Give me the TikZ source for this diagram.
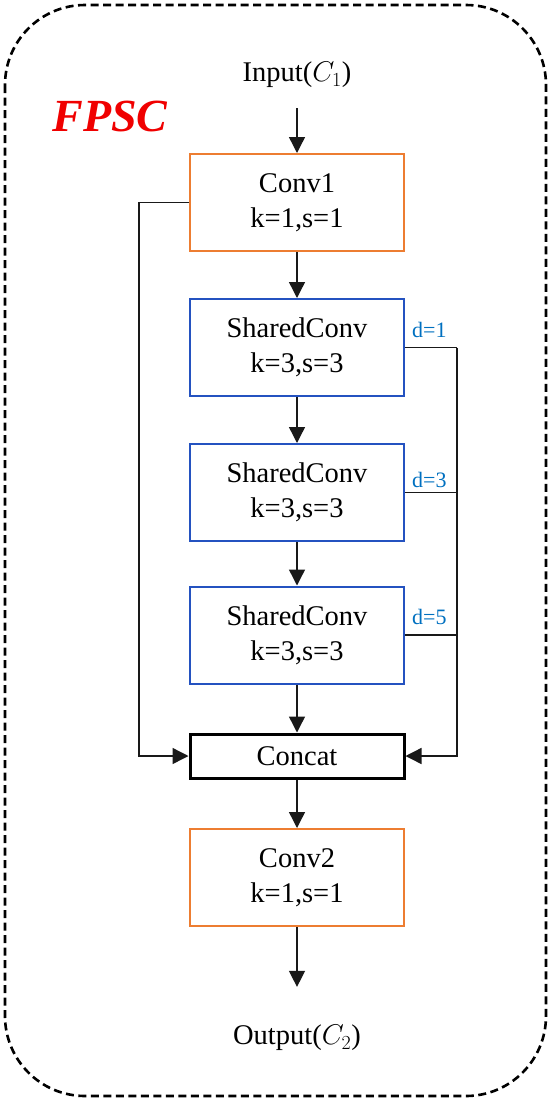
\RequirePackage{fix-cm}
\documentclass[tikz,border=0pt]{standalone}
\usepackage{fontspec}
\setmainfont{Liberation Serif}
\usetikzlibrary{arrows.meta,calc}
\definecolor{boxorange}{RGB}{237,125,49}
\definecolor{boxblue}{RGB}{36,82,192}
\definecolor{dblue}{RGB}{0,112,192}
\definecolor{fpscred}{RGB}{240,0,0}
\tikzset{
  lbl/.style={font=\fontsize{28.5}{35}\selectfont, align=center},
  blockbox/.style={lbl, draw, line width=2pt, minimum width=214pt, minimum height=97pt, inner sep=0pt},
  orangebox/.style={blockbox, draw=boxorange},
  bluebox/.style={blockbox, draw=boxblue},
  concatbox/.style={lbl, draw=black, line width=3pt, minimum width=214pt, minimum height=44pt, inner sep=0pt},
  wire/.style={line width=1.4pt, draw=black!90},
  arr/.style={wire, -{Triangle[length=16pt,width=16pt]}},
  dlab/.style={font=\fontsize{22}{26}\selectfont, text=dblue, inner sep=0pt, anchor=west},
  iolabel/.style={lbl, inner sep=0pt},
  frame/.style={draw=black, line width=2.6pt, dash pattern=on 8pt off 4.5pt, rounded corners=80pt}
}
\begin{document}
\begin{tikzpicture}[x=1pt,y=-1pt]
\useasboundingbox (0,0) rectangle (551,1100);
\draw[frame] (5,5) rectangle (546,1096);

\node[font=\fontsize{46}{50}\selectfont\bfseries\itshape, text=fpscred, inner sep=0pt] (title) at (110,116) {FPSC};

\node[iolabel] (in) at (297,75) {Input($C_1$)};
\node[orangebox] (conv1) at (297,202.5) {Conv1\\k=1,s=1};
\node[bluebox] (sc1) at (297,347.5) {SharedConv\\k=3,s=3};
\node[bluebox] (sc2) at (297,492.5) {SharedConv\\k=3,s=3};
\node[bluebox] (sc3) at (297,635) {SharedConv\\k=3,s=3};
\node[concatbox] (concat) at (297,756) {Concat};
\node[orangebox] (conv2) at (297,877.5) {Conv2\\k=1,s=1};
\node[iolabel] (out) at (297,1038) {Output($C_2$)};

\draw[arr, shorten <=20pt] (in) -- (conv1);
\draw[arr] (conv1) -- (sc1);
\draw[arr] (sc1) -- (sc2);
\draw[arr] (sc2) -- (sc3);
\draw[arr] (sc3) -- (concat);
\draw[arr] (concat) -- (conv2);
\draw[arr, shorten >=38pt] (conv2) -- (out);

\coordinate (lx) at (139,0);
\draw[arr] (conv1.west) -- (conv1.west -| lx) |- (concat.west);

\coordinate (rx) at (457,0);
\draw[wire] (sc1.east) -- (sc1.east -| rx) coordinate (r1);
\draw[wire] (sc2.east) -- (sc2.east -| rx);
\draw[wire] (sc3.east) -- (sc3.east -| rx);
\draw[arr] (r1) |- (concat.east);

\node[dlab] (d1) at (412,330) {d=1};
\node[dlab] (d3) at (412,480) {d=3};
\node[dlab] (d5) at (412,617) {d=5};
\end{tikzpicture}
\end{document}
